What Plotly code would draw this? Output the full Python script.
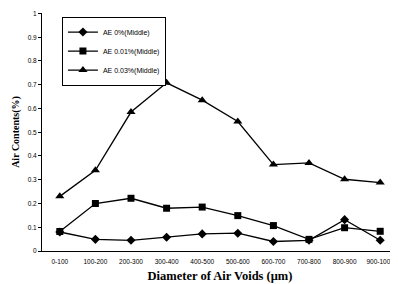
import plotly.graph_objects as go

categories = ["0-100", "100-200", "200-300", "300-400", "400-500", "500-600",
              "600-700", "700-800", "800-900", "900-1000"]
ae_0 = [0.080, 0.049, 0.045, 0.058, 0.072, 0.075, 0.040, 0.045, 0.132, 0.045]
ae_001 = [0.082, 0.200, 0.222, 0.180, 0.185, 0.149, 0.107, 0.049, 0.098, 0.083]
ae_003 = [0.230, 0.340, 0.585, 0.708, 0.635, 0.545, 0.364, 0.371, 0.302, 0.288]
series_names = ["AE 0%(Middle)", "AE 0.01%(Middle)", "AE 0.03%(Middle)"]
y_ticks = [0, 0.1, 0.2, 0.3, 0.4, 0.5, 0.6, 0.7, 0.8, 0.9, 1]
y_tick_text = ["0", "0.1", "0.2", "0.3", "0.4", "0.5", "0.6", "0.7", "0.8", "0.9", "1"]

fig = go.Figure()
styles = [("diamond", 7), ("square", 7), ("triangle-up", 8)]
for name, vals, (sym, sz) in zip(series_names, [ae_0, ae_001, ae_003], styles):
    fig.add_trace(go.Scatter(
        x=categories, y=vals, name=name, mode="lines+markers",
        line=dict(color="black", width=1.3),
        marker=dict(symbol=sym, size=sz, color="black"),
    ))

# page body has an 8px default margin, so the figure is sized to fit the window
fig.update_layout(
    width=390, height=276,
    margin=dict(l=34, r=0, t=5, b=33),
    paper_bgcolor="white", plot_bgcolor="white",
    font=dict(family="Arial, Liberation Sans, sans-serif", color="black", size=7),
    showlegend=True,
    legend=dict(
        x=0.056, y=0.985, xanchor="left", yanchor="top",
        bgcolor="white", bordercolor="black", borderwidth=1,
        font=dict(size=7, family="Arial, Liberation Sans, sans-serif", color="black"),
        tracegroupgap=0, itemwidth=30,
    ),
    xaxis=dict(
        type="category", range=[-0.5, 9.5], automargin=False,
        showline=True, linecolor="black", linewidth=1,
        ticks="", showgrid=False, zeroline=False,
        tickfont=dict(size=6.5), ticklabelstandoff=4,
        title=dict(text="<b>Diameter of Air Voids (μm)</b>",
                   font=dict(family="Liberation Serif, Times New Roman, serif", size=12.5),
                   standoff=7),
    ),
    yaxis=dict(
        range=[0, 1.002], tickvals=y_ticks, ticktext=y_tick_text, automargin=False,
        showline=True, linecolor="black", linewidth=1,
        ticks="outside", ticklen=3, tickcolor="black",
        showgrid=False, zeroline=False,
        tickfont=dict(size=6.5),
        title=dict(text="<b>Air Contents(%)</b>",
                   font=dict(family="Liberation Serif, Times New Roman, serif", size=10),
                   standoff=6),
    ),
)

fig.write_html("out.html")
